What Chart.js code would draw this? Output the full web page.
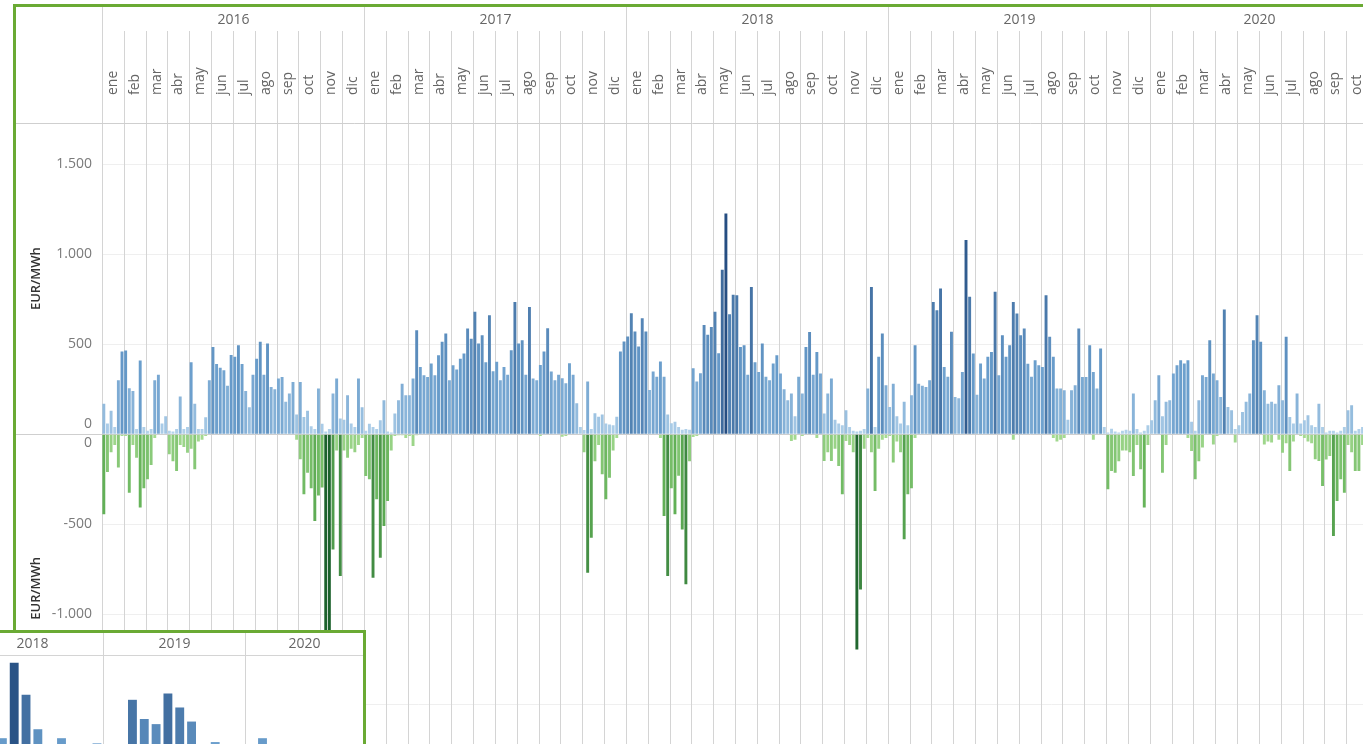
<!DOCTYPE html>
<html>
<head>
<meta charset="utf-8">
<script src="https://cdn.jsdelivr.net/npm/chart.js@4.4.1/dist/chart.umd.min.js"></script>
<style>
  html, body { margin: 0; padding: 0; background: #fff; overflow: hidden; width: 1363px; height: 744px; }
  #frame { position: absolute; left: 13px; top: 4px; width: 1420px; height: 820px; border: 3px solid #6aaa34; box-sizing: border-box; }
  #main { position: absolute; left: 16px; top: 7px; }
  #insetBox { position: absolute; left: -45px; top: 630px; width: 411px; height: 170px; background: #fff; border: 3px solid #6aaa34; box-sizing: border-box; z-index: 2; }
  #inset { position: absolute; left: 0; top: 0; }
</style>
</head>
<body>
<div id="frame"></div>
<canvas id="main" width="1353" height="788"></canvas>
<div id="insetBox"><canvas id="inset" width="405" height="150"></canvas></div>
<script>
const years = ['2016', '2017', '2018', '2019', '2020'];
const monthsPerYear = [12, 12, 12, 12, 10];
const monthNames = ['ene', 'feb', 'mar', 'abr', 'may', 'jun', 'jul', 'ago', 'sep', 'oct', 'nov', 'dic'];
const BARS_PER_MONTH = 6;
const upperTicks = [0, 500, 1000, 1500];
const lowerTicks = [-1500, -1000, -500, 0];

// EUR/MWh, 6 bars per month
const pos2016 = [
  170, 60, 130, 40, 300, 460,  465, 255, 240, 30, 410, 40,  20, 30, 300, 330, 60, 100,
  20, 15, 30, 210, 30, 40,  400, 170, 30, 30, 95, 300,  485, 390, 370, 355, 270, 440,
  430, 494, 390, 240, 150, 330,  420, 513, 330, 504, 263, 250,  309, 318, 180, 226, 290, 110,
  290, 96, 130, 45, 30, 254,  59, 15, 30, 226, 309, 87,  80, 217, 60, 40, 309, 150
];
const neg2016 = [
  -444, -210, -100, -60, -185, -10,  -10, -324, -60, -130, -407, -300,  -250, -170, -20, 0, 0, 0,
  -111, -150, -204, -60, -70, -102,  -80, -194, -40, -30, -10, 0,  0, 0, 0, 0, 0, 0,
  0, 0, 0, 0, 0, 0,  0, 0, 0, 0, 0, 0,  0, 0, 0, 0, 0, -30,
  -139, -333, -213, -300, -481, -340,  -296, -1300, -1250, -639, -90, -787,  -90, -130, -80, -100, -60, -20
];
const pos2017 = [
  20, 59, 40, 30, 78, 189,  15, 10, 115, 189, 281, 217,  217, 309, 578, 374, 328, 318,
  393, 328, 439, 513, 559, 300,  383, 360, 420, 448, 587, 530,  680, 504, 550, 400, 661, 350,
  402, 300, 374, 330, 467, 735,  504, 522, 330, 707, 310, 300,  385, 459, 589, 348, 300, 330,
  311, 283, 394, 330, 172, 40,  24, 293, 30, 117, 98, 110,  60, 55, 50, 98, 459, 515
];
const neg2017 = [
  -231, -250, -796, -360, -685, -509,  -370, -90, -10, -5, -5, -20,  -10, -65, -5, 0, 0, 0,
  0, 0, 0, 0, 0, 0,  0, 0, 0, 0, 0, 0,  0, 0, 0, 0, 0, 0,
  0, 0, 0, 0, 0, 0,  0, 0, 0, 0, 0, 0,  -10, 0, 0, 0, 0, 0,
  -13, -10, 0, 0, 0, 0,  -100, -769, -574, -150, -60, -222,  -361, -241, -90, -20, 0, 0
];
const pos2018 = [
  543, 672, 570, 487, 644, 570,  246, 348, 320, 404, 320, 110,  61, 70, 40, 25, 30, 25,
  367, 293, 339, 607, 552, 596,  680, 450, 913, 1226, 667, 774,  772, 485, 494, 330, 818, 400,
  346, 504, 319, 300, 393, 439,  337, 250, 189, 226, 100, 319,  226, 485, 568, 330, 457, 337,
  115, 226, 309, 80, 60, 50,  133, 40, 20, 15, 20, 30,  254, 818, 40, 430, 559, 272
];
const neg2018 = [
  0, 0, 0, 0, 0, 0,  0, 0, 0, -20, -454, -787,  -300, -444, -230, -528, -833, -150,
  -15, -10, 0, 0, 0, 0,  0, 0, 0, 0, 0, 0,  0, 0, 0, 0, 0, 0,
  0, 0, 0, 0, 0, 0,  0, 0, 0, -37, -30, 0,  -10, 0, 0, 0, -20, 0,
  -148, -100, -148, -80, -176, -333,  -37, -60, -100, -1194, -861, -80,  -20, -100, -315, -80, -30, -20
];
const pos2019 = [
  152, 281, 100, 60, 180, 50,  217, 494, 281, 270, 263, 300,  735, 689, 809, 374, 320, 569,
  207, 200, 346, 1078, 763, 448,  220, 393, 309, 430, 457, 791,  328, 550, 430, 494, 735, 670,
  550, 587, 392, 320, 411, 383,  374, 772, 541, 430, 254, 254,  244, 80, 244, 272, 587, 318,
  318, 494, 346, 254, 476, 40,  10, 31, 15, 10, 20, 25,  20, 226, 30, 10, 20, 50
];
const neg2019 = [
  -10, -157, -40, -100, -583, -333,  -300, -20, 0, 0, 0, 0,  0, 0, 0, 0, 0, 0,
  0, 0, 0, 0, 0, 0,  0, 0, 0, 0, 0, 0,  0, 0, 0, 0, -30, 0,
  0, 0, 0, 0, 0, 0,  0, 0, 0, -20, -40, -30,  -20, 0, 0, 0, 0, 0,
  0, 0, -30, 0, 0, 0,  -305, -204, -213, -150, -90, -90,  -100, -231, -60, -194, -407, -60
];
const pos2020 = [
  78, 189, 328, 100, 180, 189,  337, 383, 411, 393, 411, 70,  20, 189, 328, 318, 522, 337,
  300, 207, 693, 152, 133, 30,  50, 124, 180, 226, 522, 661,  513, 244, 170, 180, 170, 272,
  189, 541, 96, 60, 226, 60,  78, 106, 50, 40, 170, 40,  10, 20, 20, 10, 20, 40,
  133, 161, 20, 30, 40, 40
];
const neg2020 = [
  0, 0, 0, -213, -60, 0,  0, 0, 0, 0, -20, -93,  -250, -150, -74, 0, 0, -56,
  -10, 0, 0, 0, 0, -46,  0, 0, 0, 0, 0, 0,  0, -56, -40, -45, 0, -30,
  -102, -50, -204, -40, 0, -10,  -20, -40, -50, -139, -148, -287,  -140, -120, -565, -370, -250, -324,
  -60, -100, -204, -204, -60, -40
];

// small monthly panel (bottom left)
const insetYears = ['2018', '2019', '2020'];
const insetMonths = [12, 12, 10];
const inset2018 = [10, 10, 15, 35, 94, 69, 42, 25, 35, 20, 15, 31];
const inset2019 = [10, 20, 65, 50, 46, 70, 59, 48, 25, 32, 10, 15];
const inset2020 = [20, 35, 25, 28, 20, 25, 15, 10, 10, 10];

const posValues = [...pos2016, ...pos2017, ...pos2018, ...pos2019, ...pos2020];
const negValues = [...neg2016, ...neg2017, ...neg2018, ...neg2019, ...neg2020];
const labels = [];
years.forEach((y, yi) => {
  for (let m = 0; m < monthsPerYear[yi]; m++)
    for (let k = 0; k < BARS_PER_MONTH; k++) labels.push(y + '-' + monthNames[m] + '-' + k);
});

// three-stop ramps, light -> mid -> dark
function ramp(stops, t) {
  const [a, b, c] = stops;
  const [p, q, u] = t < 0.4 ? [a, b, t / 0.4] : [b, c, (t - 0.4) / 0.6];
  return 'rgb(' + p.map((v, i) => Math.round(v + (q[i] - v) * u)).join(',') + ')';
}
const blueStops = [[184, 214, 237], [104, 156, 203], [36, 76, 128]];
const greenStops = [[170, 222, 150], [100, 178, 88], [28, 98, 44]];
function blue(v, top) {
  return ramp(blueStops, Math.pow(Math.min(1, Math.max(0, v) / top), 0.85));
}
function green(v) {
  return ramp(greenStops, Math.pow(Math.min(1, -v / 1250), 0.85));
}
function fmt(v) {
  if (v === 0) return '';
  return (v < 0 ? '-' : '') + String(Math.abs(v)).replace(/\B(?=(\d{3})+(?!\d))/g, '.');
}

Chart.defaults.font.family = "'Open Sans', sans-serif";

// month / year edges taken from the x scale
function monthEdge(x, i) {
  const step = x.getPixelForValue(1) - x.getPixelForValue(0);
  return Math.round(x.getPixelForValue(i * BARS_PER_MONTH) - step / 2) + 0.5;
}

const headerPlugin = {
  id: 'header',
  beforeDatasetsDraw(chart) {
    const { ctx, chartArea: a, scales: { x, y } } = chart;
    const H = chart.height, W = chart.width;
    ctx.save();
    ctx.lineWidth = 1;
    ctx.strokeStyle = '#d4d4d4';
    let m = 0;
    years.forEach((yr, yi) => {
      for (let k = 0; k < monthsPerYear[yi]; k++, m++) {
        const px = monthEdge(x, m);
        ctx.beginPath();
        ctx.moveTo(px, k === 0 ? 0 : 24);
        ctx.lineTo(px, H);
        ctx.stroke();
      }
    });
    // header bottom and zero line run across the whole frame
    ctx.strokeStyle = '#cfcfcf';
    ctx.beginPath();
    ctx.moveTo(0, a.top + 0.5); ctx.lineTo(W, a.top + 0.5);
    const z = Math.round(y.getPixelForValue(0)) + 0.5;
    ctx.moveTo(0, z); ctx.lineTo(W, z);
    ctx.stroke();
    ctx.restore();
  },
  afterDraw(chart) {
    const { ctx, scales: { x, y, y2 } } = chart;
    ctx.save();
    ctx.fillStyle = '#666';
    ctx.font = '14px "Open Sans"';
    ctx.textBaseline = 'middle';
    let m = 0;
    years.forEach((yr, yi) => {
      const x0 = monthEdge(x, m), x1 = monthEdge(x, m + monthsPerYear[yi]);
      ctx.textAlign = 'center';
      ctx.fillText(yr, (x0 + x1) / 2, 13);
      for (let k = 0; k < monthsPerYear[yi]; k++) {
        const cx = (monthEdge(x, m + k) + monthEdge(x, m + k + 1)) / 2;
        ctx.save();
        ctx.translate(cx, 88);
        ctx.rotate(-Math.PI / 2);
        ctx.textAlign = 'left';
        ctx.fillText(monthNames[k], 0, 0);
        ctx.restore();
      }
      m += monthsPerYear[yi];
    });
    // the two zero labels sit inside their own panes
    ctx.fillStyle = '#7a7a7a';
    ctx.textAlign = 'right';
    ctx.fillText('0', 76, y.getPixelForValue(0) - 10);
    ctx.fillText('0', 76, y2.getPixelForValue(0) + 9);
    // axis titles
    ctx.fillStyle = '#333';
    ctx.font = '600 13px "Open Sans"';
    [(y.top + y.bottom) / 2, y2.top + 154].forEach(cy => {
      ctx.save();
      ctx.translate(20, cy);
      ctx.rotate(-Math.PI / 2);
      ctx.textAlign = 'center';
      ctx.fillText('EUR/MWh', 0, 0);
      ctx.restore();
    });
    ctx.restore();
  }
};

const tickFont = { size: 14 };
const gridColor = c => c.tick && c.tick.value === 0 ? 'rgba(0,0,0,0)' : '#efefef';
new Chart(document.getElementById('main'), {
  type: 'bar',
  data: {
    labels: labels,
    datasets: [
      { data: posValues, yAxisID: 'y', backgroundColor: posValues.map(v => blue(v, 1250)),
        grouped: false, barPercentage: 1, categoryPercentage: 0.8 },
      { data: negValues, yAxisID: 'y2', backgroundColor: negValues.map(green),
        grouped: false, barPercentage: 1, categoryPercentage: 0.8 }
    ]
  },
  options: {
    responsive: false,
    animation: false,
    events: [],
    layout: { padding: { top: 116, right: 1, bottom: 1, left: 0 } },
    plugins: { legend: { display: false }, tooltip: { enabled: false } },
    scales: {
      x: { display: false },
      y2: {
        position: 'left', stack: 'panes', stackWeight: 342,
        min: -1900, max: 0,
        border: { display: false },
        grid: { drawTicks: false, color: gridColor },
        ticks: { padding: 10, color: '#7a7a7a', font: tickFont, callback: v => fmt(v) },
        afterBuildTicks: s => { s.ticks = lowerTicks.map(v => ({ value: v })); },
        afterFit: s => { s.width = 86; }
      },
      y: {
        position: 'left', stack: 'panes', stackWeight: 311,
        min: 0, max: 1728,
        border: { display: false },
        grid: { drawTicks: false, color: gridColor },
        ticks: { padding: 10, color: '#7a7a7a', font: tickFont, callback: v => fmt(v) },
        afterBuildTicks: s => { s.ticks = upperTicks.map(v => ({ value: v })); },
        afterFit: s => { s.width = 86; }
      }
    }
  },
  plugins: [headerPlugin]
});

// inset
const insetValues = [...inset2018, ...inset2019, ...inset2020];
const insetLabels = [];
insetYears.forEach((y, yi) => {
  for (let m = 0; m < insetMonths[yi]; m++) insetLabels.push(y + '-' + monthNames[m]);
});

const insetHeader = {
  id: 'insetHeader',
  beforeDatasetsDraw(chart) {
    const { ctx, chartArea: a, scales: { x } } = chart;
    const step = x.getPixelForValue(1) - x.getPixelForValue(0);
    const edge = i => Math.round(x.getPixelForValue(i) - step / 2) + 0.5;
    ctx.save();
    ctx.strokeStyle = '#d4d4d4';
    ctx.lineWidth = 1;
    ctx.beginPath();
    ctx.moveTo(0, a.top + 0.5); ctx.lineTo(chart.width, a.top + 0.5);
    let m = 0;
    insetYears.forEach((yr, yi) => {
      if (yi > 0) { ctx.moveTo(edge(m), 0); ctx.lineTo(edge(m), chart.height); }
      m += insetMonths[yi];
    });
    ctx.stroke();
    ctx.fillStyle = '#666';
    ctx.font = '14px "Open Sans"';
    ctx.textAlign = 'center';
    ctx.textBaseline = 'middle';
    m = 0;
    insetYears.forEach((yr, yi) => {
      ctx.fillText(yr, (edge(m) + edge(m + insetMonths[yi])) / 2, 11);
      m += insetMonths[yi];
    });
    ctx.restore();
  }
};

new Chart(document.getElementById('inset'), {
  type: 'bar',
  data: {
    labels: insetLabels,
    datasets: [{ data: insetValues, backgroundColor: insetValues.map(v => blue(v, 100)),
      barPercentage: 1, categoryPercentage: 0.75 }]
  },
  options: {
    responsive: false,
    animation: false,
    events: [],
    layout: { padding: { top: 22, right: 0, bottom: 0, left: 3 } },
    plugins: { legend: { display: false }, tooltip: { enabled: false } },
    scales: { x: { display: false }, y: { display: false, min: 0, max: 100 } }
  },
  plugins: [insetHeader]
});
</script>
</body>
</html>
